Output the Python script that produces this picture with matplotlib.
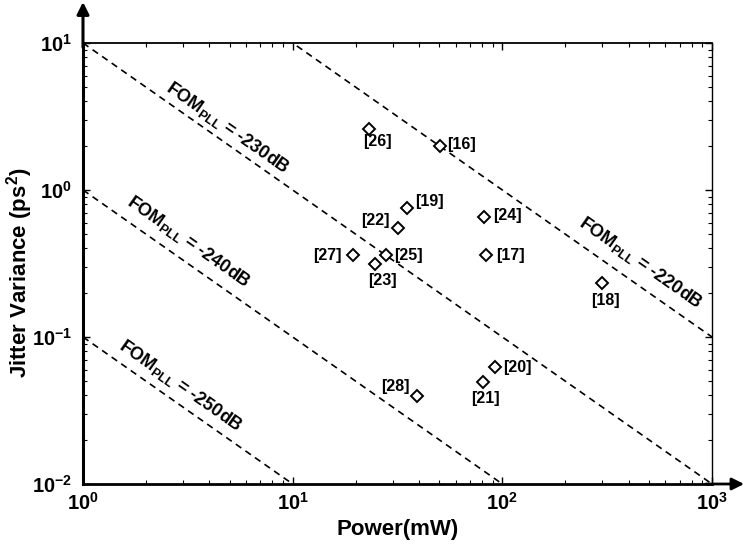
import numpy as np
import matplotlib
matplotlib.use("Agg")
import matplotlib.pyplot as plt

plt.rcParams['font.family'] = ['Liberation Sans', 'DejaVu Sans']
plt.rcParams['font.weight'] = 'bold'
plt.rcParams['mathtext.fontset'] = 'custom'
plt.rcParams['mathtext.rm'] = 'Liberation Sans:bold'
plt.rcParams['mathtext.bf'] = 'Liberation Sans:bold'
plt.rcParams['mathtext.it'] = 'Liberation Sans:bold'
plt.rcParams['mathtext.default'] = 'rm'

# ---- data ----
refs = ['[16]', '[17]', '[18]', '[19]', '[20]', '[21]', '[22]',
        '[23]', '[24]', '[25]', '[26]', '[27]', '[28]']
power_mw = [50.4, 83.2, 299, 35.0, 92.2, 80.5, 31.7,
            24.7, 81.7, 27.8, 23.1, 19.3, 39.0]
jitter_var = [1.99, 0.361, 0.232, 0.751, 0.0628, 0.0492, 0.549,
              0.312, 0.658, 0.361, 2.60, 0.361, 0.0399]
fom_levels = [-220, -230, -240, -250]

# label layout (pixel offsets, alignment)
label_layout = {
    '[16]': (7, 2, 'left'), '[17]': (11, 0, 'left'), '[18]': (3, -17, 'center'),
    '[19]': (8, 7, 'left'), '[20]': (8, -1, 'left'), '[21]': (3, -16, 'center'),
    '[22]': (-8, 8, 'right'), '[23]': (7, -16, 'center'), '[24]': (9, 1, 'left'),
    '[25]': (8, 0, 'left'), '[26]': (9, -13, 'center'), '[27]': (-11, 0, 'right'),
    '[28]': (-7, 9, 'right'),
}
fom_text_pos = {-220: (458, 0.319), -230: (4.91, 2.64), -240: (3.20, 0.443), -250: (2.93, 0.0464)}

fig = plt.figure(figsize=(7.44, 5.49), dpi=100)
ax = fig.add_axes([83/744, 1-484/549, (712-83)/744, (484-43)/549])
ax.set_xscale('log')
ax.set_yscale('log')
ax.set_xlim(1, 1000)
ax.set_ylim(0.01, 10)

xs = np.logspace(0, 3, 400)
for f in fom_levels:
    k = 10 ** ((f + 240) / 10.0)
    ax.plot(xs, k / xs, color='k', lw=1.2, linestyle=(0, (4, 3)))

ax.plot(power_mw, jitter_var, linestyle='none', marker='D', ms=6.5,
        mfc='white', mec='k', mew=1.4, zorder=5)

for r, x, y in zip(refs, power_mw, jitter_var):
    dx, dy, ha = label_layout[r]
    ax.annotate(r, (x, y), xytext=(dx, dy), textcoords='offset pixels',
                ha=ha, va='center', fontsize=11.5, fontweight='bold', zorder=6)

# angle of FOM lines on screen
fig.canvas.draw()
p0 = ax.transData.transform((1, 1))
p1 = ax.transData.transform((10, 0.1))
ang = np.degrees(np.arctan2(p1[1]-p0[1], p1[0]-p0[0]))
for f in fom_levels:
    tx, ty = fom_text_pos[f]
    ax.text(tx, ty, r'FOM$_{PLL}$ = %ddB' % f, rotation=ang, rotation_mode='anchor',
            ha='center', va='center', fontsize=13, fontweight='bold')

ax.tick_params(which='both', direction='in', top=True, right=True, labelsize=14.5)
ax.tick_params(which='major', length=5, width=1)
ax.tick_params(which='minor', length=2.8, width=0.8)
ax.tick_params(axis='x', pad=6)
ax.tick_params(axis='y', pad=8)
for lab in ax.get_xticklabels() + ax.get_yticklabels():
    lab.set_fontweight('bold')

ax.spines['left'].set_linewidth(2.2)
ax.spines['bottom'].set_linewidth(2.0)
ax.spines['top'].set_linewidth(1.3)
ax.spines['right'].set_linewidth(1.0)

# axis arrows
ax.annotate('', xy=(1.051, 0), xytext=(0.99, 0), xycoords='axes fraction',
            arrowprops=dict(arrowstyle='-|>', lw=2.0, color='k', mutation_scale=18,
                            shrinkA=0, shrinkB=0), annotation_clip=False)
ax.annotate('', xy=(0, 1.093), xytext=(0, 0.99), xycoords='axes fraction',
            arrowprops=dict(arrowstyle='-|>', lw=2.2, color='k', mutation_scale=18,
                            shrinkA=0, shrinkB=0), annotation_clip=False)

ax.set_xlabel('Power(mW)', fontsize=16, fontweight='bold')
ax.xaxis.set_label_coords(0.5, -0.08)
ax.set_ylabel('Jitter Variance (ps$^2$)', fontsize=16, fontweight='bold')
ax.yaxis.set_label_coords(-0.077, 0.48)

fig.savefig('out.png', dpi=100)
